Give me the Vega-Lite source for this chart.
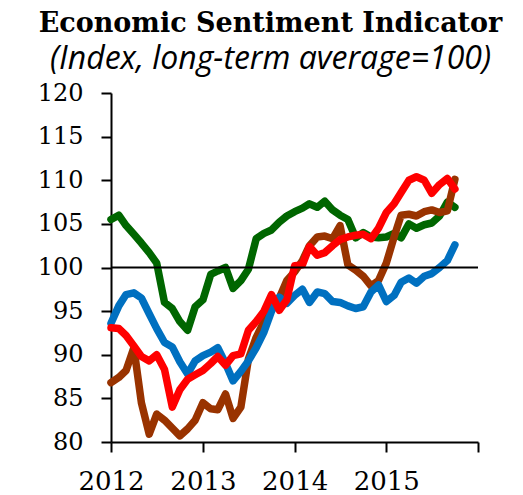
{
  "$schema": "https://vega.github.io/schema/vega-lite/v6.json",
  "width": 367,
  "height": 349,
  "autosize": {"type": "none"},
  "padding": {"left": 111, "top": 93, "right": 45, "bottom": 53},
  "background": "white",
  "title": {
    "text": "Economic Sentiment Indicator",
    "subtitle": "(Index, long-term average=100)",
    "font": "DejaVu Serif",
    "fontSize": 27,
    "fontWeight": "bold",
    "color": "black",
    "subtitleFont": "Open Sans",
    "subtitleFontSize": 32,
    "subtitleFontStyle": "italic",
    "subtitleColor": "black",
    "subtitlePadding": 6,
    "anchor": "middle",
    "dx": -24,
    "offset": 5
  },
  "layer": [
    {
      "data": {
        "values": [
          {"date": "2012-01-01", "g": 105.5, "o": 86.8, "b": 93.6, "r": 93.1},
          {"date": "2012-02-01", "g": 106.0, "o": 87.4, "b": 95.6, "r": 93.0},
          {"date": "2012-03-01", "g": 104.8, "o": 88.2, "b": 96.9, "r": 92.2},
          {"date": "2012-04-01", "g": 103.8, "o": 90.8, "b": 97.1, "r": 91.0},
          {"date": "2012-05-01", "g": 102.8, "o": 84.5, "b": 96.5, "r": 89.8},
          {"date": "2012-06-01", "g": 101.7, "o": 80.9, "b": 94.7, "r": 89.3},
          {"date": "2012-07-01", "g": 100.5, "o": 83.2, "b": 93.0, "r": 90.0},
          {"date": "2012-08-01", "g": 96.0, "o": 82.5, "b": 91.4, "r": 88.3},
          {"date": "2012-09-01", "g": 95.3, "o": 81.6, "b": 90.9, "r": 84.0},
          {"date": "2012-10-01", "g": 93.8, "o": 80.7, "b": 89.2, "r": 86.0},
          {"date": "2012-11-01", "g": 92.8, "o": 81.5, "b": 87.8, "r": 87.2},
          {"date": "2012-12-01", "g": 95.5, "o": 82.5, "b": 89.3, "r": 87.7},
          {"date": "2013-01-01", "g": 96.3, "o": 84.5, "b": 89.9, "r": 88.2},
          {"date": "2013-02-01", "g": 99.2, "o": 83.8, "b": 90.3, "r": 89.0},
          {"date": "2013-03-01", "g": 99.6, "o": 83.7, "b": 90.8, "r": 89.8},
          {"date": "2013-04-01", "g": 100.0, "o": 85.5, "b": 89.0, "r": 88.8},
          {"date": "2013-05-01", "g": 97.6, "o": 82.7, "b": 87.0, "r": 89.9},
          {"date": "2013-06-01", "g": 98.5, "o": 84.0, "b": 88.1, "r": 90.1},
          {"date": "2013-07-01", "g": 99.8, "o": 89.5, "b": 89.3, "r": 92.8},
          {"date": "2013-08-01", "g": 103.3, "o": 92.0, "b": 90.8, "r": 93.8},
          {"date": "2013-09-01", "g": 103.9, "o": 93.8, "b": 92.6, "r": 95.0},
          {"date": "2013-10-01", "g": 104.3, "o": 95.2, "b": 95.0, "r": 96.9},
          {"date": "2013-11-01", "g": 105.2, "o": 96.5, "b": 96.6, "r": 95.1},
          {"date": "2013-12-01", "g": 105.9, "o": 98.5, "b": 95.9, "r": 96.3},
          {"date": "2014-01-01", "g": 106.4, "o": 99.5, "b": 96.8, "r": 100.2},
          {"date": "2014-02-01", "g": 106.8, "o": 100.8, "b": 97.5, "r": 100.3},
          {"date": "2014-03-01", "g": 107.3, "o": 102.5, "b": 96.0, "r": 102.4},
          {"date": "2014-04-01", "g": 106.9, "o": 103.5, "b": 97.2, "r": 101.4},
          {"date": "2014-05-01", "g": 107.6, "o": 103.6, "b": 97.0, "r": 101.7},
          {"date": "2014-06-01", "g": 106.6, "o": 103.3, "b": 96.1, "r": 102.5},
          {"date": "2014-07-01", "g": 106.0, "o": 104.8, "b": 96.0, "r": 103.2},
          {"date": "2014-08-01", "g": 105.5, "o": 100.3, "b": 95.6, "r": 103.5},
          {"date": "2014-09-01", "g": 103.4, "o": 99.7, "b": 95.3, "r": 103.7},
          {"date": "2014-10-01", "g": 104.0, "o": 99.0, "b": 95.5, "r": 103.8},
          {"date": "2014-11-01", "g": 103.5, "o": 97.9, "b": 97.2, "r": 103.3},
          {"date": "2014-12-01", "g": 103.4, "o": 98.5, "b": 98.0, "r": 104.5},
          {"date": "2015-01-01", "g": 103.5, "o": 100.5, "b": 96.1, "r": 106.3},
          {"date": "2015-02-01", "g": 103.9, "o": 103.5, "b": 96.8, "r": 107.3},
          {"date": "2015-03-01", "g": 103.4, "o": 106.0, "b": 98.3, "r": 108.6},
          {"date": "2015-04-01", "g": 105.0, "o": 106.1, "b": 98.8, "r": 110.0},
          {"date": "2015-05-01", "g": 104.5, "o": 105.9, "b": 98.2, "r": 110.4},
          {"date": "2015-06-01", "g": 104.9, "o": 106.4, "b": 99.0, "r": 110.0},
          {"date": "2015-07-01", "g": 105.1, "o": 106.6, "b": 99.3, "r": 108.5},
          {"date": "2015-08-01", "g": 105.9, "o": 106.3, "b": 100.0, "r": 109.5},
          {"date": "2015-09-01", "g": 107.5, "o": 106.5, "b": 100.8, "r": 110.2},
          {"date": "2015-10-01", "g": 106.9, "o": 110.1, "b": 102.6, "r": 109.0}
        ]
      },
      "transform": [{"fold": ["g", "o", "b", "r"], "as": ["s", "v"]}],
      "mark": {"type": "line", "strokeWidth": 7.5, "strokeCap": "round", "strokeJoin": "round"},
      "encoding": {
        "x": {
          "field": "date",
          "type": "temporal",
          "scale": {
            "type": "utc",
            "domain": [
              {"year": 2012, "month": 1, "date": 1, "utc": true},
              {"year": 2016, "month": 1, "date": 1, "utc": true}
            ]
          },
          "axis": {
            "title": null,
            "values": [
              {"year": 2012, "month": 1, "date": 1, "utc": true},
              {"year": 2013, "month": 1, "date": 1, "utc": true},
              {"year": 2014, "month": 1, "date": 1, "utc": true},
              {"year": 2015, "month": 1, "date": 1, "utc": true},
              {"year": 2016, "month": 1, "date": 1, "utc": true}
            ],
            "format": "%Y",
            "labelExpr": "datum.label == '2016' ? '' : datum.label",
            "labelFlush": false,
            "labelOverlap": false,
            "labelAlign": "center",
            "labelDx": 4,
            "labelPadding": 16,
            "labelFontSize": 26,
            "tickSize": 10
          }
        },
        "y": {
          "field": "v",
          "type": "quantitative",
          "scale": {"domain": [80, 120], "nice": false, "zero": false},
          "axis": {
            "title": null,
            "values": [80, 85, 90, 95, 100, 105, 110, 115, 120],
            "labelPadding": 18,
            "tickSize": 10
          }
        },
        "color": {
          "field": "s",
          "type": "nominal",
          "scale": {"domain": ["g", "o", "b", "r"], "range": ["#006600", "#993300", "#0070C0", "#FF0000"]},
          "legend": null
        }
      }
    },
    {
      "data": {"values": [{"y": 100}]},
      "mark": {"type": "rule", "color": "black", "strokeWidth": 2},
      "encoding": {"y": {"field": "y", "type": "quantitative"}}
    }
  ],
  "config": {
    "view": {"stroke": null},
    "axis": {
      "grid": false,
      "domainColor": "black",
      "domainWidth": 2,
      "tickColor": "black",
      "tickWidth": 2,
      "labelFont": "DejaVu Serif",
      "labelFontSize": 24,
      "labelColor": "black"
    }
  }
}
